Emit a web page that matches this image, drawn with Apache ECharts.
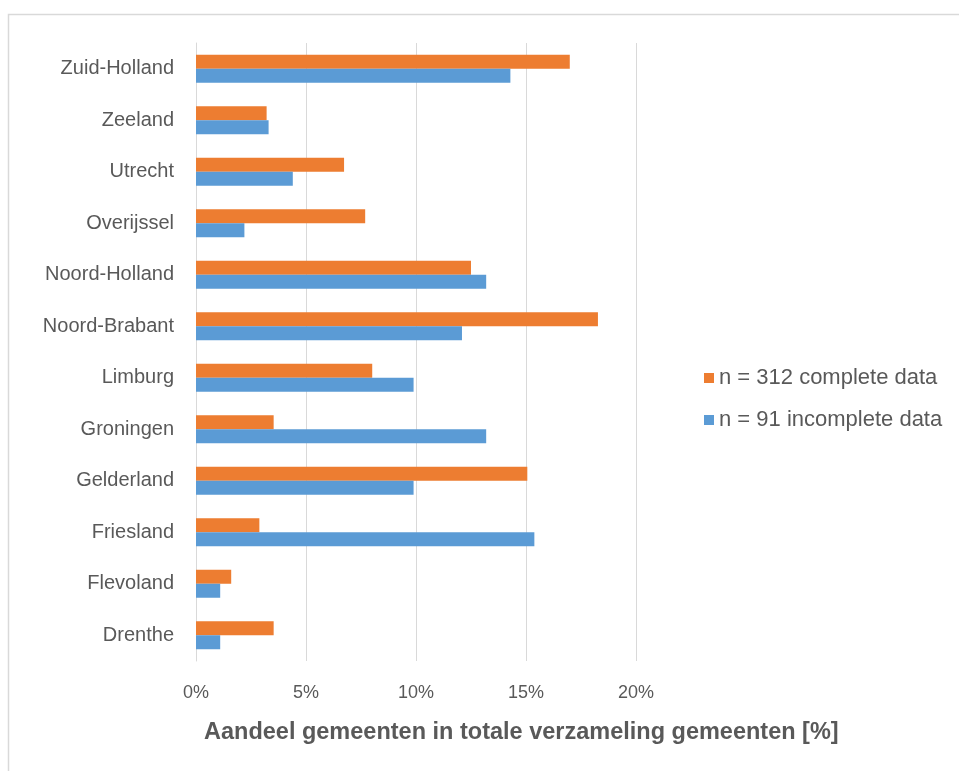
<!DOCTYPE html>
<html>
<head>
<meta charset="utf-8">
<script src="https://cdn.jsdelivr.net/npm/echarts@6/dist/echarts.min.js"></script>
<style>
  html, body { margin: 0; padding: 0; background: #fff; }
  #chart { width: 959px; height: 771px; }
</style>
</head>
<body>
<div id="chart"></div>
<script>
const provinces = ['Drenthe', 'Flevoland', 'Friesland', 'Gelderland', 'Groningen', 'Limburg',
  'Noord-Brabant', 'Noord-Holland', 'Overijssel', 'Utrecht', 'Zeeland', 'Zuid-Holland']
const complete = [3.53, 1.60, 2.88, 15.06, 3.53, 8.01, 18.27, 12.50, 7.69, 6.73, 3.21, 16.99]
const incomplete = [1.10, 1.10, 15.38, 9.89, 13.19, 9.89, 12.09, 13.19, 2.20, 4.40, 3.30, 14.29]
const seriesNames = ['n = 312 complete data', 'n = 91 incomplete data']
const xTicks = [0, 5, 10, 15, 20]

const font = '"Liberation Sans", Arial, sans-serif'
const chart = echarts.init(document.getElementById('chart'))

chart.setOption({
  animation: false,
  textStyle: { fontFamily: font },
  title: {
    text: 'Aandeel gemeenten in totale verzameling gemeenten [%]',
    left: 204,
    top: 721,
    padding: 0,
    textStyle: { color: '#595959', fontSize: 23.5, fontWeight: 'bold', fontFamily: font }
  },
  graphic: [{
    type: 'rect',
    shape: { x: 8.5, y: 14.5, width: 1000, height: 800 },
    style: { fill: 'none', stroke: '#d9d9d9', lineWidth: 1.5 },
    silent: true
  }],
  legend: {
    data: seriesNames,
    orient: 'vertical',
    left: 699,
    top: 362,
    itemGap: 20,
    itemWidth: 10,
    itemHeight: 10,
    icon: 'rect',
    textStyle: { color: '#595959', fontSize: 22, fontFamily: font }
  },
  grid: { left: 196, right: 323, top: 43, bottom: 110, containLabel: false },
  xAxis: {
    type: 'value',
    min: xTicks[0],
    max: xTicks[xTicks.length - 1],
    interval: 5,
    axisLine: { show: false },
    axisTick: { show: false },
    splitLine: { lineStyle: { color: '#d9d9d9', width: 1 } },
    axisLabel: { color: '#595959', fontSize: 18, margin: 23, formatter: '{value}%' }
  },
  yAxis: {
    type: 'category',
    data: provinces,
    axisLine: { show: true, lineStyle: { color: '#d9d9d9' } },
    axisTick: { show: false },
    axisLabel: { color: '#595959', fontSize: 20, margin: 22 }
  },
  series: [
    {
      name: seriesNames[0],
      type: 'bar',
      data: complete,
      barWidth: 14,
      barGap: '0%',
      itemStyle: { color: '#ed7d31' }
    },
    {
      name: seriesNames[1],
      type: 'bar',
      data: incomplete,
      barWidth: 14,
      barGap: '0%',
      itemStyle: { color: '#5b9bd5' }
    }
  ]
})
</script>
</body>
</html>
